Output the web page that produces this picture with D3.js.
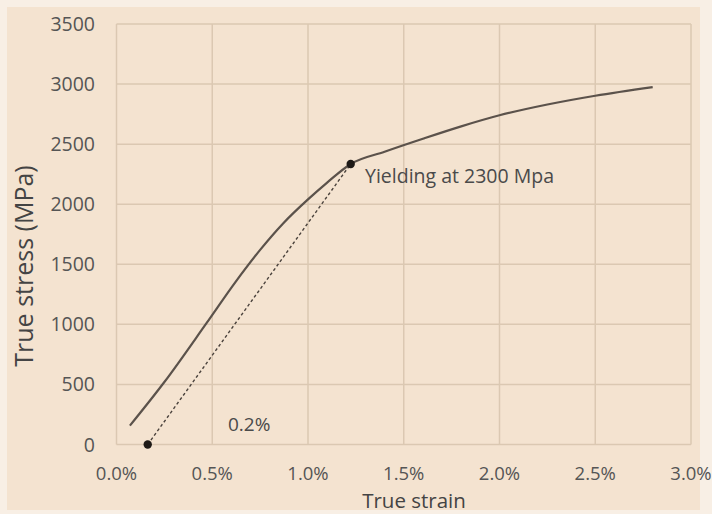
<html>
<head>
<script src="https://d3js.org/d3.v7.min.js"></script>
<style>
  body { margin: 0; background: #f8efe5; }
  svg { display: block; font-family: "Open Sans", sans-serif; }
</style>
</head>
<body>
<svg id="chart" width="712" height="514"></svg>
<script>
// data (strain in %, stress in MPa)
const strain = [0.07, 0.25, 0.47, 0.62, 0.75, 0.87, 1.00, 1.10, 1.223, 1.4, 1.6, 1.8, 2.0, 2.25, 2.5, 2.8];
const stress = [157, 520, 1010, 1350, 1620, 1840, 2040, 2180, 2335, 2437, 2545, 2648, 2740, 2830, 2903, 2975];
const offsetLine = [[0.163, 0], [1.223, 2335]];
const xTicks = [0, 0.5, 1.0, 1.5, 2.0, 2.5, 3.0];
const yTicks = [0, 500, 1000, 1500, 2000, 2500, 3000, 3500];

const svg = d3.select('#chart');

svg.append('rect')
   .attr('x', 7).attr('y', 7)
   .attr('width', 693).attr('height', 503)
   .attr('fill', '#f4e3d0');

const x = d3.scaleLinear().domain([0, 3]).range([116.5, 691]);
const y = d3.scaleLinear().domain([0, 3500]).range([444.5, 24]);

// grid
svg.append('g').selectAll('line')
   .data(yTicks).enter().append('line')
   .attr('x1', x(0)).attr('x2', x(3))
   .attr('y1', d => y(d)).attr('y2', d => y(d))
   .attr('stroke', '#dbc8b2').attr('stroke-width', 1.5);
svg.append('g').selectAll('line')
   .data(xTicks).enter().append('line')
   .attr('y1', y(0)).attr('y2', y(3500))
   .attr('x1', d => x(d)).attr('x2', d => x(d))
   .attr('stroke', '#dbc8b2').attr('stroke-width', 1.5);

// tick labels
svg.append('g').selectAll('text')
   .data(yTicks).enter().append('text')
   .attr('x', 95).attr('y', d => y(d))
   .attr('dy', '0.36em')
   .attr('text-anchor', 'end')
   .attr('font-size', 19.5)
   .attr('fill', '#555')
   .text(d => d);
svg.append('g').selectAll('text')
   .data(xTicks).enter().append('text')
   .attr('x', d => x(d)).attr('y', 479.5)
   .attr('text-anchor', 'middle')
   .attr('font-size', 18.5)
   .attr('fill', '#555')
   .text(d => d.toFixed(1) + '%');

// axis titles
svg.append('text')
   .attr('x', 414).attr('y', 507.5)
   .attr('text-anchor', 'middle')
   .attr('font-size', 20.5)
   .attr('fill', '#444')
   .text('True strain');
svg.append('text')
   .attr('transform', 'translate(33,266) rotate(-90)')
   .attr('text-anchor', 'middle')
   .attr('font-size', 25)
   .attr('fill', '#444')
   .text('True stress (MPa)');

// offset line
svg.append('path')
   .datum(offsetLine)
   .attr('d', d3.line().x(d => x(d[0])).y(d => y(d[1])))
   .attr('fill', 'none')
   .attr('stroke', '#4a423c')
   .attr('stroke-width', 1.4)
   .attr('stroke-dasharray', '3,2.5');

// stress-strain curve
const pts = strain.map((s, i) => [s, stress[i]]);
svg.append('path')
   .datum(pts)
   .attr('d', d3.line().x(d => x(d[0])).y(d => y(d[1])).curve(d3.curveMonotoneX))
   .attr('fill', 'none')
   .attr('stroke', '#5b524b')
   .attr('stroke-width', 2.2);

// points
svg.append('g').selectAll('circle')
   .data(offsetLine).enter().append('circle')
   .attr('cx', d => x(d[0])).attr('cy', d => y(d[1]))
   .attr('r', 4.2)
   .attr('fill', '#1e1a17');

// annotations
svg.append('text')
   .attr('x', 365).attr('y', 182.5)
   .attr('font-size', 19.5)
   .attr('fill', '#4a4a4a')
   .text('Yielding at 2300 Mpa');
svg.append('text')
   .attr('x', 228).attr('y', 430.5)
   .attr('font-size', 19)
   .attr('fill', '#4a4a4a')
   .text('0.2%');
</script>
</body>
</html>
